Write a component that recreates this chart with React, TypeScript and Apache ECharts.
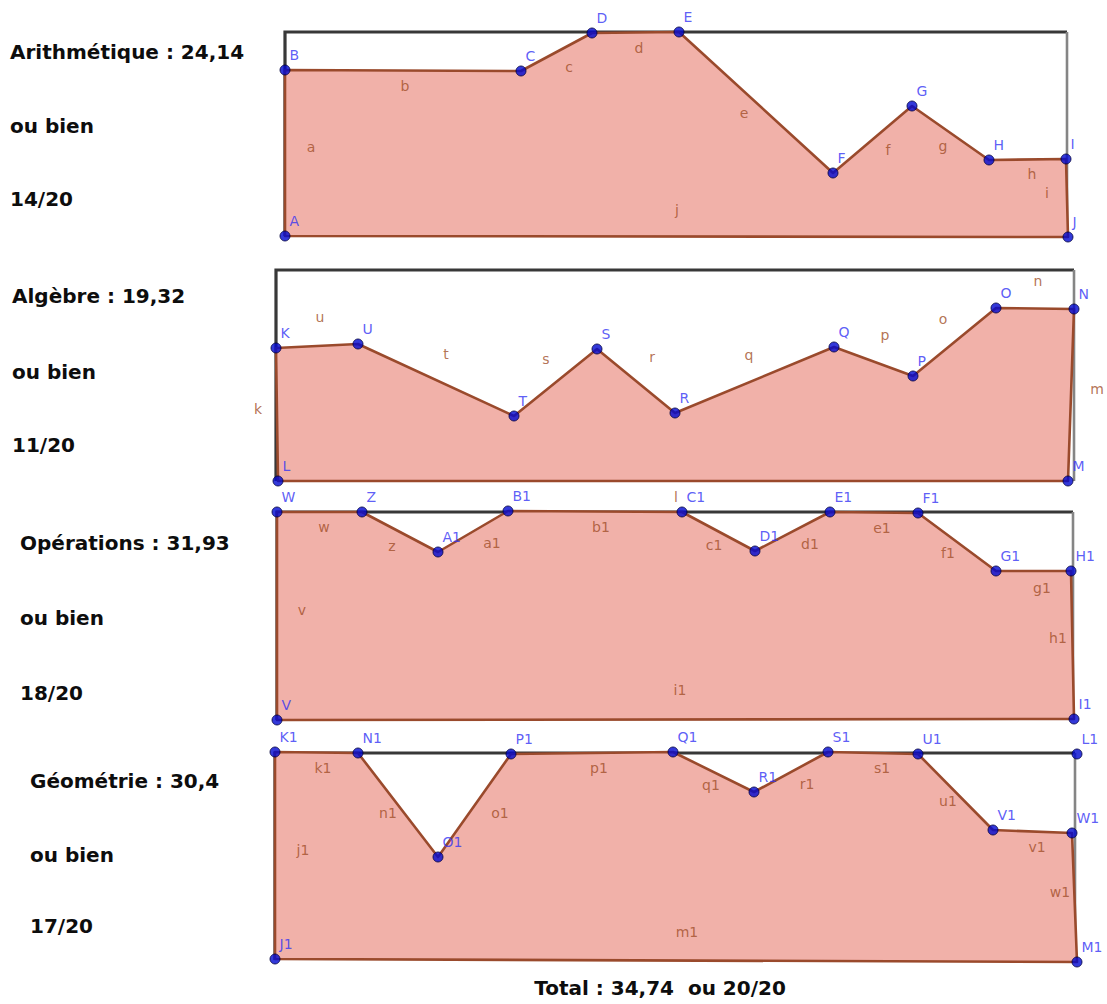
import React, { useEffect, useRef } from 'react';
import * as echarts from 'echarts';

type Pt = [string, number, number];

// ---- texts ----
const subjects = ['Arithmétique', 'Algèbre', 'Opérations', 'Géométrie'];
const areaValues = ['24,14', '19,32', '31,93', '30,4'];
const marks = ['14/20', '11/20', '18/20', '17/20'];
const totalText = 'Total : 34,74  ou 20/20';

// ---- frames [width, height] (panel units) ----
const arithFrame = [782, 204];
const algFrame = [798, 211];
const opFrame = [796, 208];
const geoFrame = [800, 207];

// ---- polygon vertices [name, x, y] ----
const arithVertices: Pt[] = [
  ['A', 0, 0], ['B', 0, 166], ['C', 236, 165], ['D', 307, 203], ['E', 394, 204],
  ['F', 548, 63], ['G', 627, 130], ['H', 704, 76], ['I', 781, 77], ['J', 783, -1],
];
const algVertices: Pt[] = [
  ['K', 0, 133], ['U', 82, 137], ['T', 238, 65], ['S', 321, 132], ['R', 399, 68],
  ['Q', 558, 134], ['P', 637, 105], ['O', 720, 173], ['N', 798, 172], ['M', 792, 0], ['L', 2, 0],
];
const opVertices: Pt[] = [
  ['W', 0, 208], ['Z', 85, 208], ['A1', 161, 168], ['B1', 231, 209], ['C1', 405, 208],
  ['D1', 478, 169], ['E1', 553, 208], ['F1', 641, 207], ['G1', 719, 149], ['H1', 794, 149],
  ['I1', 797, 1], ['V', 0, 0],
];
const geoVertices: Pt[] = [
  ['K1', 0, 208], ['N1', 83, 207], ['O1', 163, 103], ['P1', 236, 206], ['Q1', 398, 208],
  ['R1', 479, 168], ['S1', 553, 208], ['U1', 643, 206], ['V1', 718, 130], ['W1', 797, 127],
  ['M1', 802, -2], ['J1', 0, 1],
];
const geoExtraPoints: Pt[] = [['L1', 802, 206]];

// ---- segment labels [name, x, y] ----
const arithEdges: Pt[] = [
  ['a', 26, 89], ['b', 120, 150], ['c', 284, 169], ['d', 354, 188], ['e', 459, 123],
  ['f', 603, 86], ['g', 658, 90], ['h', 747, 62], ['i', 762, 43], ['j', 392, 26],
];
const algEdges: Pt[] = [
  ['u', 44, 164], ['t', 170, 127], ['s', 270, 122], ['r', 376, 124], ['q', 473, 126],
  ['p', 609, 146], ['o', 667, 162], ['n', 762, 200], ['m', 821, 92], ['k', -18, 72], ['l', 400, -16],
];
const opEdges: Pt[] = [
  ['w', 47, 193], ['z', 115, 174], ['a1', 215, 177], ['b1', 324, 193], ['c1', 437, 175],
  ['d1', 533, 176], ['e1', 605, 192], ['f1', 671, 167], ['g1', 765, 132], ['h1', 781, 82],
  ['v', 25, 110], ['i1', 403, 30],
];
const geoEdges: Pt[] = [
  ['k1', 48, 192], ['n1', 113, 147], ['o1', 225, 147], ['p1', 324, 192], ['q1', 436, 175],
  ['r1', 532, 176], ['s1', 607, 192], ['u1', 673, 159], ['v1', 762, 113], ['w1', 785, 68],
  ['j1', 28, 110], ['m1', 412, 28],
];

// ---- layout (pixels) ----
const gridPos = [
  { left: 285, top: 32 },
  { left: 276, top: 270 },
  { left: 277, top: 512 },
  { left: 275, top: 753 },
];
const textX = [10, 12, 20, 30];
const textY = [
  [52, 126, 199],
  [296, 372, 445],
  [543, 618, 693],
  [781, 855, 926],
];

const FILL = '#f1b1a9';
const EDGE = '#9a4a2c';
const POINT = '#0008d0';
const POINT_LABEL = '#3434f4';
const EDGE_LABEL = '#a14f2a';

const panels = [
  { frame: arithFrame, vertices: arithVertices, extra: [] as Pt[], edges: arithEdges },
  { frame: algFrame, vertices: algVertices, extra: [] as Pt[], edges: algEdges },
  { frame: opFrame, vertices: opVertices, extra: [] as Pt[], edges: opEdges },
  { frame: geoFrame, vertices: geoVertices, extra: geoExtraPoints, edges: geoEdges },
];

function buildOption() {
  const grid: any[] = [];
  const xAxis: any[] = [];
  const yAxis: any[] = [];
  const series: any[] = [];
  const graphic: any[] = [];

  panels.forEach((p, i) => {
    const [w, h] = p.frame;
    grid.push({ left: gridPos[i].left, top: gridPos[i].top, width: w, height: h, containLabel: false });
    xAxis.push({ type: 'value', gridIndex: i, min: 0, max: w, show: false });
    yAxis.push({ type: 'value', gridIndex: i, min: 0, max: h, show: false });

    // frame
    series.push({
      type: 'custom',
      xAxisIndex: i,
      yAxisIndex: i,
      z: 1,
      silent: true,
      data: [[0, 0], [w, h]],
      renderItem: (params: any, api: any) => {
        if (params.dataIndex !== 0) return null;
        const bl = api.coord([0, 0]);
        const tl = api.coord([0, h]);
        const tr = api.coord([w, h]);
        const br = api.coord([w, 0]);
        return {
          type: 'group',
          children: [
            { type: 'polyline', shape: { points: [bl, tl, tr] }, style: { stroke: '#383838', lineWidth: 3.2, fill: null } },
            { type: 'polyline', shape: { points: [tr, br] }, style: { stroke: '#858585', lineWidth: 2.6, fill: null } },
          ],
        };
      },
    });

    // polygon
    const verts = p.vertices;
    series.push({
      type: 'custom',
      xAxisIndex: i,
      yAxisIndex: i,
      z: 2,
      silent: true,
      data: verts.map((v) => [v[1], v[2]]),
      renderItem: (params: any, api: any) => {
        if (params.dataIndex !== 0) return null;
        const pts = verts.map((v) => api.coord([v[1], v[2]]));
        return {
          type: 'polygon',
          shape: { points: pts },
          style: { fill: FILL, stroke: EDGE, lineWidth: 2.6, lineJoin: 'round' },
        };
      },
    });

    // segment labels
    series.push({
      type: 'scatter',
      xAxisIndex: i,
      yAxisIndex: i,
      z: 3,
      silent: true,
      clip: false,
      symbol: 'circle',
      symbolSize: 1,
      itemStyle: { color: 'rgba(0,0,0,0)' },
      label: {
        show: true,
        position: 'inside',
        formatter: '{b}',
        color: EDGE_LABEL,
        fontSize: 14,
        fontFamily: 'DejaVu Sans',
      },
      data: p.edges.map((e) => ({ name: e[0], value: [e[1], e[2]] })),
    });

    // vertex points
    series.push({
      type: 'scatter',
      xAxisIndex: i,
      yAxisIndex: i,
      z: 4,
      silent: true,
      clip: false,
      symbol: 'circle',
      symbolSize: 10,
      itemStyle: { color: POINT, borderColor: '#00003c', borderWidth: 1 },
      label: {
        show: true,
        position: [10, -17],
        formatter: '{b}',
        color: POINT_LABEL,
        fontSize: 14,
        fontFamily: 'DejaVu Sans',
      },
      data: [...p.vertices, ...p.extra].map((v) => ({ name: v[0], value: [v[1], v[2]] })),
    });

    const lines = [`${subjects[i]} : ${areaValues[i]}`, 'ou bien', marks[i]];
    lines.forEach((t, j) => {
      graphic.push({
        type: 'text',
        x: textX[i],
        y: textY[i][j],
        silent: true,
        style: {
          text: t,
          font: 'bold 20px "DejaVu Sans"',
          fill: '#0d0d0d',
          align: 'left',
          verticalAlign: 'middle',
        },
      });
    });
  });

  graphic.push({
    type: 'text',
    x: 660,
    y: 988,
    silent: true,
    style: {
      text: totalText,
      font: 'bold 20px "DejaVu Sans"',
      fill: '#0d0d0d',
      align: 'center',
      verticalAlign: 'middle',
    },
  });

  return {
    animation: false,
    backgroundColor: '#ffffff',
    grid,
    xAxis,
    yAxis,
    series,
    graphic,
  };
}

export default function App() {
  const ref = useRef<HTMLDivElement>(null);
  useEffect(() => {
    if (!ref.current) return;
    const chart = echarts.init(ref.current, undefined, { renderer: 'svg' });
    chart.setOption(buildOption() as any);
    return () => chart.dispose();
  }, []);
  return (
    <div
      ref={ref}
      style={{ position: 'absolute', left: 0, top: 0, width: 1107, height: 1004 }}
    />
  );
}
